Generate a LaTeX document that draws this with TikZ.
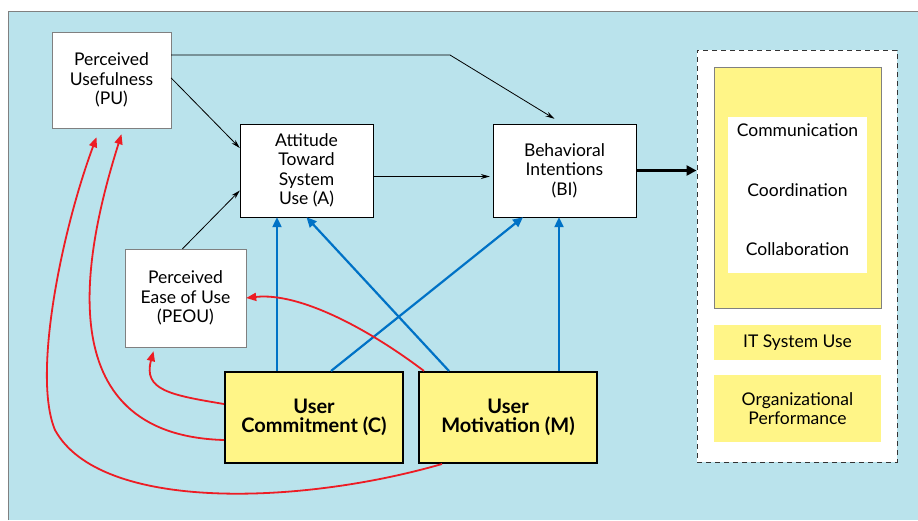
\documentclass[tikz,border=0pt]{standalone}
\usepackage{fontspec}
\setmainfont{Lato}
\usetikzlibrary{arrows.meta}

\definecolor{skyblue}{RGB}{186,227,236}
\definecolor{paleyellow}{RGB}{255,245,135}
\definecolor{linkblue}{RGB}{0,114,198}
\definecolor{linkred}{RGB}{237,28,36}

\begin{document}
\begin{tikzpicture}[
    x=1pt, y=-1pt,
    box/.style={rectangle, draw=black, fill=white, align=center, inner sep=0pt, font=\fontsize{17.5}{19.5}\selectfont},
    userbox/.style={rectangle, draw=black, line width=2pt, fill=paleyellow, align=center, minimum width=178pt, minimum height=91pt, font=\fontsize{20}{19.5}\selectfont\bfseries},
    outbox/.style={rectangle, fill=paleyellow, minimum width=167pt, align=center, inner sep=0pt, font=\fontsize{17.5}{19.5}\selectfont},
    item/.style={font=\fontsize{17.5}{19.5}\selectfont},
    arrow/.style={-{Stealth[length=9pt,width=5pt]}, line width=0.8pt},
    bluearrow/.style={-{Triangle[length=10pt,width=9pt]}, line width=2.2pt, linkblue},
    redarrow/.style={-{Triangle[length=10pt,width=8pt]}, line width=1.8pt, linkred}
]
\useasboundingbox (0,0) rectangle (918,520);

% Background
\fill[skyblue] (8,11) rectangle (918,520);
\draw[gray, line width=1pt] (8,520) -- (8,11) -- (918,11);

% TAM constructs
\node[box, draw=gray, minimum width=119pt, minimum height=96pt] (pu) at (111.5,80) {Perceived\\Usefulness\\(PU)};
\node[box, minimum width=133pt, minimum height=93pt] (att) at (306.5,170.5) {Attitude\\Toward\\System\\Use (A)};
\node[box, draw=gray, minimum width=121pt, minimum height=98pt] (peou) at (185.5,298) {Perceived\\Ease of Use\\(PEOU)};
\node[box, minimum width=143pt, minimum height=93pt] (bi) at (564.5,170.5) {Behavioral\\Intentions\\(BI)};

% User factors
\node[userbox] (comm) at (314,417.5) {User\\Commitment (C)};
\node[userbox] (mot) at (508,417.5) {User\\Motivation (M)};

% Outcomes
\node[draw=black!80, dash pattern=on 5pt off 4pt, line width=1pt, fill=white, minimum width=200pt, minimum height=412pt] (out) at (797,256) {};
\node[draw=gray, fill=paleyellow, minimum width=167pt, minimum height=241pt] (collab) at (797.5,187.5) {};
\node[fill=white, minimum width=139pt, minimum height=156pt] (inner) at (797.5,195) {};
\node[item] (comu) at (797.5,130) {Communication};
\node[item] (coord) at (797.5,190) {Coordination};
\node[item] (colla) at (797.5,249) {Collaboration};
\node[outbox, minimum height=35pt] (use) at (797.5,342.5) {IT System Use};
\node[outbox, minimum height=67pt] (perf) at (797.5,408.5) {Organizational\\Performance};

% Black arrows
\coordinate (bend) at (450,55);
\draw[arrow] ([yshift=2pt]pu.east) -- ([yshift=22.5pt]att.west);
\draw[arrow] ([yshift=25pt]pu.east) -- (bend) -- ([xshift=-10pt,yshift=5pt]bi.north);
\draw[arrow] ([yshift=-6pt]att.east) -- ([yshift=-6pt,xshift=-3pt]att.east -| bi.west);
\draw[arrow] ([xshift=-3pt]peou.north) -- ([yshift=-20pt]att.west);
\draw[-{Triangle[length=10pt,width=10pt]}, line width=2.5pt] (bi.east) -- (bi.east -| out.west);

% Blue arrows
\draw[bluearrow] ([xshift=-37pt]comm.north) -- ([xshift=-37pt]comm.north |- att.south);
\draw[bluearrow] ([xshift=17pt]comm.north) -- ([xshift=-41.5pt]bi.south);
\draw[bluearrow] ([xshift=-59pt]mot.north) -- (att.south);
\draw[bluearrow] ([xshift=51pt]mot.north) -- ([xshift=51pt]mot.north |- bi.south);

% Red arrows
\draw[redarrow] ([xshift=6pt]mot.north west) .. controls (370,330) and (300,292) .. (peou.east);
\draw[redarrow] ([yshift=13.5pt]comm.west) .. controls (170,395) and (143,390) .. ([xshift=-32pt,yshift=-4pt]peou.south);
\draw[redarrow] ([yshift=-22.5pt]comm.west) .. controls (45,435) and (85,250) .. ([xshift=10pt,yshift=-6pt]pu.south);
\draw[redarrow] ([xshift=-66pt]mot.south) .. controls (300,505) and (100,512) .. (55,430)
    .. controls (32,375) and (62,230) .. ([xshift=-15pt,yshift=-9pt]pu.south);

\end{tikzpicture}
\end{document}
